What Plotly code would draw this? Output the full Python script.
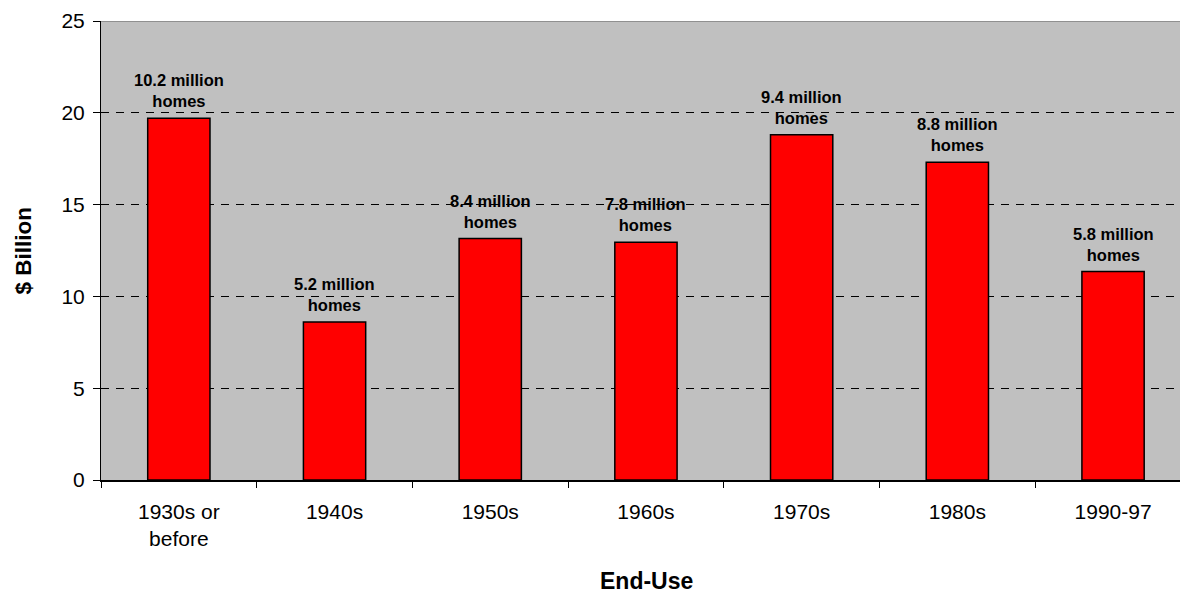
import plotly.graph_objects as go

# Residential spending by decade of construction
categories = ["1930s or<br>before", "1940s", "1950s", "1960s", "1970s", "1980s", "1990-97"]
spending = [19.7, 8.6, 13.15, 12.95, 18.8, 17.3, 11.35]   # $ billion
homes_labels = ["10.2 million", "5.2 million", "8.4 million", "7.8 million",
                "9.4 million", "8.8 million", "5.8 million"]
y_ticks = [0, 5, 10, 15, 20, 25]

FONT = "Arial, Liberation Sans, sans-serif"

fig = go.Figure()
fig.add_trace(go.Bar(
    x=categories,
    y=spending,
    width=0.4,
    marker=dict(color="#FF0000", line=dict(color="#000000", width=1.5)),
    hoverinfo="x+y",
))

for cat, val, lab in zip(categories, spending, homes_labels):
    fig.add_annotation(
        x=cat, y=val, xref="x", yref="y",
        text=f"<b>{lab}<br>homes</b>",
        showarrow=False, yanchor="bottom", yshift=6,
        font=dict(family=FONT, size=16.5, color="#000000"),
    )

# axis titles
fig.add_annotation(
    x=0.506, y=-0.252, xref="paper", yref="paper",
    text="<b>End-Use</b>", showarrow=False, xanchor="center", yanchor="bottom",
    font=dict(family=FONT, size=23, color="#000000"),
)
fig.add_annotation(
    x=-0.0714, y=0.5, xref="paper", yref="paper", textangle=-90,
    text="<b>$ Billion</b>", showarrow=False, xanchor="center", yanchor="middle",
    font=dict(family=FONT, size=22.5, color="#000000"),
)

# plot-area border along the top
fig.add_shape(type="line", xref="paper", yref="y", x0=0, x1=1, y0=25, y1=25,
              line=dict(color="#808080", width=1.5), layer="above")

fig.update_layout(
    width=1180, height=597,
    margin=dict(l=101, r=0, t=21, b=117),
    paper_bgcolor="#FFFFFF",
    plot_bgcolor="#C0C0C0",
    showlegend=False,
    font=dict(family=FONT, color="#000000"),
    bargap=0.6,
)
fig.update_xaxes(
    type="category",
    range=[-0.5, 6.43],
    tickson="boundaries",
    ticks="outside", ticklen=6, tickcolor="#000000", tickwidth=1,
    showline=True, linecolor="#000000", linewidth=1.5,
    showgrid=False,
    ticklabelstandoff=12,
    tickfont=dict(family=FONT, size=21, color="#000000"),
)
fig.update_yaxes(
    range=[0, 25],
    tickvals=y_ticks,
    ticks="outside", ticklen=7, tickcolor="#000000", tickwidth=1,
    showline=True, linecolor="#000000", linewidth=1,
    showgrid=True, gridcolor="#000000", gridwidth=1, griddash="8px,7px",
    zeroline=False,
    ticklabelstandoff=4,
    tickfont=dict(family=FONT, size=21, color="#000000"),
)

fig.write_html("out.html")
